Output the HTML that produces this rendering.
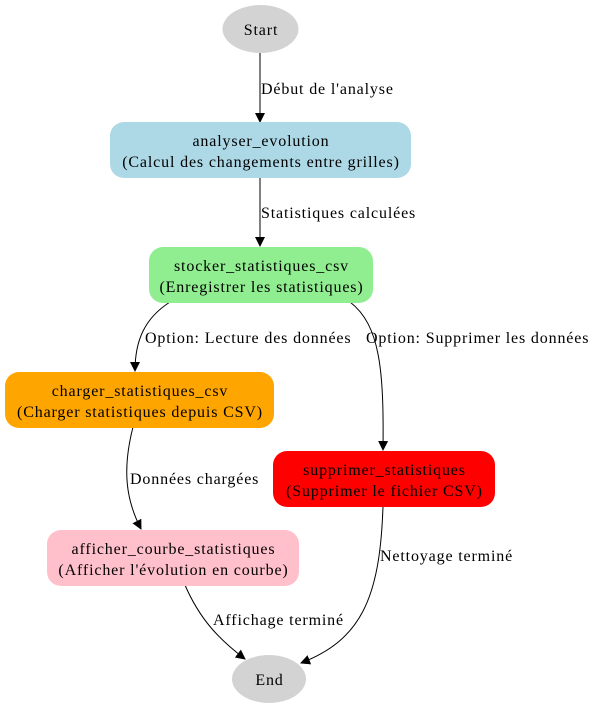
<!DOCTYPE html>
<html><head><meta charset="utf-8"><style>
html,body{margin:0;padding:0;background:#fff;}
svg{display:block;font-family:"Liberation Serif",serif;font-size:16px;letter-spacing:0.85px;}
</style></head><body>
<svg width="596" height="708" viewBox="0 0 596 708">
<defs><marker id="ah" markerWidth="10" markerHeight="14" refX="9" refY="7" orient="auto" markerUnits="userSpaceOnUse"><path d="M0,2 L10,7 L0,12 Z" fill="#000"/></marker></defs>
<g fill="none" stroke="#000" stroke-width="1" marker-end="url(#ah)">
<path d="M260,53 L260,122"/>
<path d="M260,178 L260,246"/>
<path d="M170,302 C145,318 135,340 135,371"/>
<path d="M350,302 C380,325 384,370 383,450"/>
<path d="M133,427 C122,470 126,500 141,529"/>
<path d="M185,585 C200,620 220,640 245,659"/>
<path d="M383,506 C380,600 360,640 301,663"/>
</g>
<g>
<text x="261" y="94">Début de l'analyse</text>
<text x="261" y="218">Statistiques calculées</text>
<text x="145" y="343">Option: Lecture des données</text>
<text x="366" y="343">Option: Supprimer les données</text>
<text x="130" y="484">Données chargées</text>
<text x="380" y="561">Nettoyage terminé</text>
<text x="213" y="625">Affichage terminé</text>
</g>
<g text-anchor="middle">
<g><ellipse cx="260.5" cy="29" rx="38" ry="24" fill="#d3d3d3"/><text x="261" y="35">Start</text></g>
<g><rect x="110" y="122" width="301" height="56" rx="14" fill="#add8e6"/><text x="261" y="146">analyser_evolution</text><text x="261" y="167">(Calcul des changements entre grilles)</text></g>
<g><rect x="149" y="247" width="224" height="56" rx="14" fill="#90ee90"/><text x="261.5" y="271">stocker_statistiques_csv</text><text x="261.5" y="292">(Enregistrer les statistiques)</text></g>
<g><rect x="5" y="372" width="269" height="56" rx="14" fill="#ffa500"/><text x="140" y="396">charger_statistiques_csv</text><text x="140" y="417">(Charger statistiques depuis CSV)</text></g>
<g><rect x="273" y="451" width="222" height="56" rx="14" fill="#ff0000"/><text x="384.5" y="475">supprimer_statistiques</text><text x="384.5" y="496">(Supprimer le fichier CSV)</text></g>
<g><rect x="47" y="530" width="252" height="56" rx="14" fill="#ffc0cb"/><text x="173.5" y="554">afficher_courbe_statistiques</text><text x="173.5" y="575">(Afficher l'évolution en courbe)</text></g>
<g><ellipse cx="269" cy="679" rx="37" ry="24" fill="#d3d3d3"/><text x="269.5" y="685">End</text></g>
</g>
</svg>
</body></html>
